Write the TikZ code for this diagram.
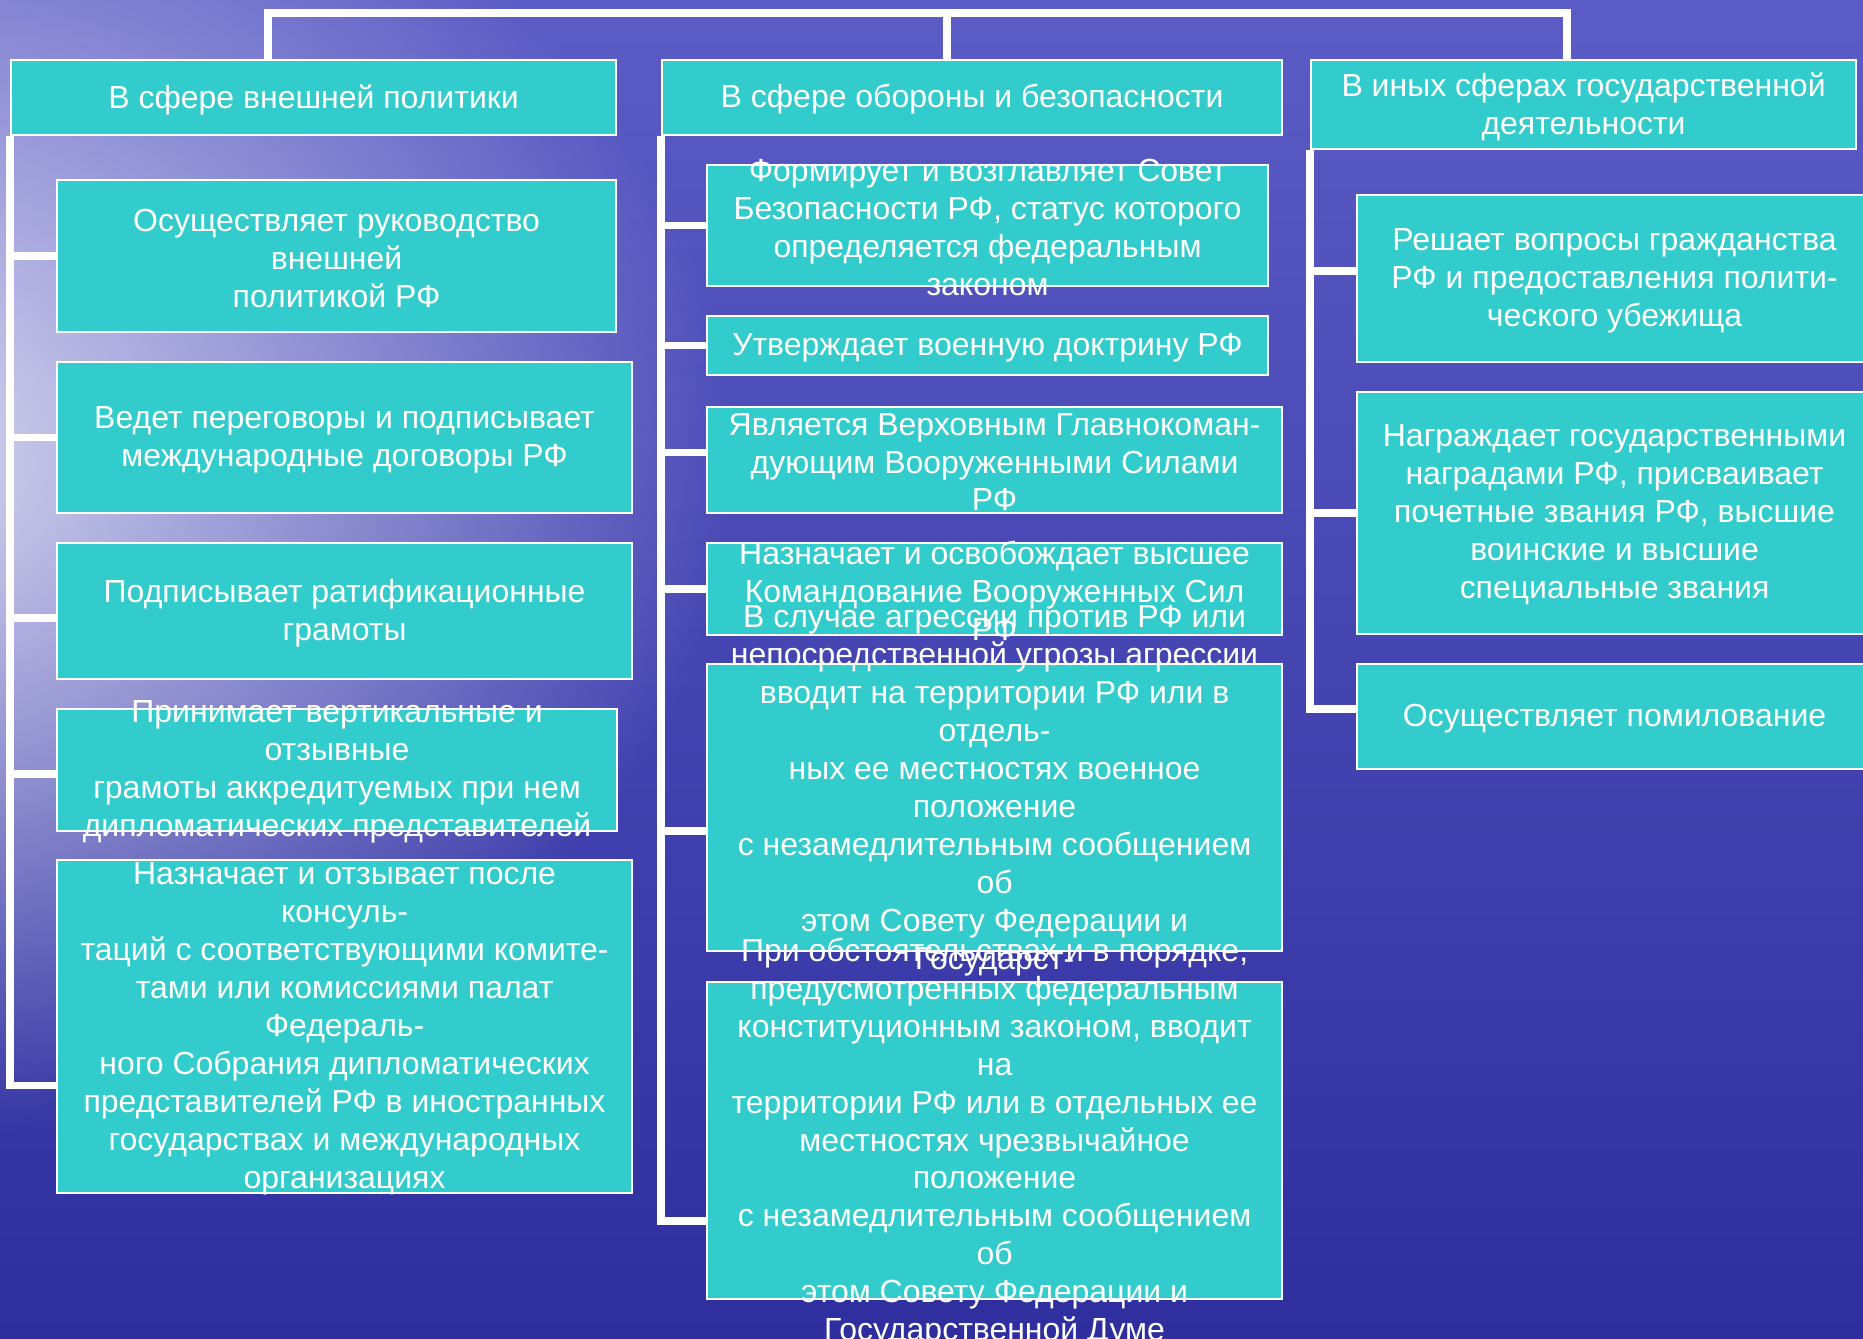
\documentclass[tikz,border=0pt]{standalone}
\usepackage{fontspec}
\setmainfont{Liberation Sans}
\usepackage{xcolor}
\usetikzlibrary{fadings}

\definecolor{boxfill}{RGB}{51,204,204}
\definecolor{bgtop}{RGB}{92,92,198}
\definecolor{bgmid}{RGB}{68,68,180}
\definecolor{bgbot}{RGB}{46,46,158}
\newcommand{\bxfont}{\fontsize{9.1}{10.8}\selectfont}

\tikzfading[name=glow, inner color=transparent!0, outer color=transparent!100]

\begin{document}
\begin{tikzpicture}[
  box/.style={draw=white, line width=0.6pt, fill=boxfill, inner sep=0pt, anchor=north west},
  txt/.style={text=white, align=center, inner sep=0pt, font=\bxfont},
  wire/.style={white, line width=2.1pt}]
  \useasboundingbox (0,0) rectangle (18.63,-13.38);
  % Background
  \shade[top color=bgtop, middle color=bgmid, bottom color=bgbot] (0,0) rectangle (18.63,-13.38);
  \fill[white, fill opacity=0.8, path fading=glow] (-1.2,-4.6) ellipse (8.5 and 6.8);

  % Column headers
  \node[box, minimum width=6.05cm, minimum height=0.75cm] (hdrA) at (0.10,-0.59) {};
  \node[txt] (hdrAt) at ([yshift=-0.02cm]hdrA) {В сфере внешней политики};
  \node[box, minimum width=6.20cm, minimum height=0.75cm] (hdrB) at (6.61,-0.59) {};
  \node[txt] (hdrBt) at ([yshift=-0.02cm]hdrB) {В сфере обороны и безопасности};
  \node[box, minimum width=5.45cm, minimum height=0.89cm] (hdrC) at (13.10,-0.59) {};
  \node[txt] (hdrCt) at ([yshift=-0.02cm]hdrC) {В иных сферах государственной\\деятельности};

  % Top bracket
  \coordinate (topA) at (2.68,-0.13);
  \coordinate (topB) at (9.47,-0.13);
  \coordinate (topC) at (15.67,-0.13);
  \draw[wire] (topA |- hdrA.north) -- (topA) -- (topC) -- (topC |- hdrC.north);
  \draw[wire] (topB) -- (topB |- hdrB.north);

  % Foreign policy
  \node[box, minimum width=5.59cm, minimum height=1.52cm] (bA1) at (0.56,-1.79) {};
  \node[txt] (bA1t) at ([yshift=-0.02cm]bA1) {Осуществляет руководство\\внешней\\политикой РФ};
  \node[box, minimum width=5.75cm, minimum height=1.51cm] (bA2) at (0.56,-3.61) {};
  \node[txt] (bA2t) at ([yshift=-0.02cm]bA2) {Ведет переговоры и подписывает\\международные договоры РФ};
  \node[box, minimum width=5.75cm, minimum height=1.36cm] (bA3) at (0.56,-5.42) {};
  \node[txt] (bA3t) at ([yshift=-0.02cm]bA3) {Подписывает ратификационные\\грамоты};
  \node[box, minimum width=5.60cm, minimum height=1.22cm] (bA4) at (0.56,-7.08) {};
  \node[txt] (bA4t) at ([yshift=-0.02cm]bA4) {Принимает вертикальные и\\отзывные\\грамоты аккредитуемых при нем\\дипломатических представителей};
  \node[box, minimum width=5.75cm, minimum height=3.33cm] (bA5) at (0.56,-8.59) {};
  \node[txt] (bA5t) at ([yshift=-0.02cm]bA5) {Назначает и отзывает после\\консуль-\\таций с соответствующими комите-\\тами или комиссиями палат\\Федераль-\\ного Собрания дипломатических\\представителей РФ в иностранных\\государствах и международных\\организациях};

  % Defence and security
  \node[box, minimum width=5.61cm, minimum height=1.21cm] (bB1) at (7.06,-1.64) {};
  \node[txt] (bB1t) at ([yshift=-0.02cm]bB1) {Формирует и возглавляет Совет\\Безопасности РФ, статус которого\\определяется федеральным\\законом};
  \node[box, minimum width=5.61cm, minimum height=0.59cm] (bB2) at (7.06,-3.15) {};
  \node[txt] (bB2t) at ([yshift=-0.02cm]bB2) {Утверждает военную доктрину РФ};
  \node[box, minimum width=5.75cm, minimum height=1.06cm] (bB3) at (7.06,-4.06) {};
  \node[txt] (bB3t) at ([yshift=-0.02cm]bB3) {Является Верховным Главнокоман-\\дующим Вооруженными Силами\\РФ};
  \node[box, minimum width=5.75cm, minimum height=0.92cm] (bB4) at (7.06,-5.42) {};
  \node[txt] (bB4t) at ([yshift=-0.02cm]bB4) {Назначает и освобождает высшее\\Командование Вооруженных Сил\\РФ};
  \node[box, minimum width=5.75cm, minimum height=2.87cm] (bB5) at (7.06,-6.63) {};
  \node[txt] (bB5t) at ([yshift=-0.02cm]bB5) {В случае агрессии против РФ или\\непосредственной угрозы агрессии\\вводит на территории РФ или в\\отдель-\\ных ее местностях военное\\положение\\с незамедлительным сообщением\\об\\этом Совету Федерации и\\Государст-\\\phantom{венной Думе}};
  \node[box, minimum width=5.75cm, minimum height=3.17cm] (bB6) at (7.06,-9.81) {};
  \node[txt] (bB6t) at ([yshift=-0.02cm]bB6) {При обстоятельствах и в порядке,\\предусмотренных федеральным\\конституционным законом, вводит\\на\\территории РФ или в отдельных ее\\местностях чрезвычайное\\положение\\с незамедлительным сообщением\\об\\этом Совету Федерации и\\Государственной Думе};

  % Other spheres
  \node[box, minimum width=5.15cm, minimum height=1.67cm] (bC1) at (13.56,-1.94) {};
  \node[txt] (bC1t) at ([yshift=-0.02cm]bC1) {Решает вопросы гражданства\\РФ и предоставления полити-\\ческого убежища};
  \node[box, minimum width=5.15cm, minimum height=2.42cm] (bC2) at (13.56,-3.91) {};
  \node[txt] (bC2t) at ([yshift=-0.02cm]bC2) {Награждает государственными\\наградами РФ, присваивает\\почетные звания РФ, высшие\\воинские и высшие\\специальные звания};
  \node[box, minimum width=5.15cm, minimum height=1.05cm] (bC3) at (13.56,-6.63) {};
  \node[txt] (bC3t) at ([yshift=-0.02cm]bC3) {Осуществляет помилование};

  % Spines and branches
  \draw[wire] (hdrA.south west) |- ([yshift=-0.59cm]bA5.west);
  \foreach \b/\s in {bA1/0, bA2/0, bA3/-0.07, bA4/-0.04}
    \draw[wire] ([yshift=\s cm]\b.west) -- ([yshift=\s cm]\b.west -| hdrA.south west);
  \draw[wire] (hdrB.south west) |- ([yshift=-0.805cm]bB6.west);
  \foreach \b/\s in {bB1/0, bB2/0, bB3/0.075, bB4/0, bB5/-0.235}
    \draw[wire] ([yshift=\s cm]\b.west) -- ([yshift=\s cm]\b.west -| hdrB.south west);
  \draw[wire] (hdrC.south west) |- ([yshift=0.075cm]bC3.west);
  \foreach \b/\s in {bC1/0.075, bC2/0}
    \draw[wire] ([yshift=\s cm]\b.west) -- ([yshift=\s cm]\b.west -| hdrC.south west);
\end{tikzpicture}
\end{document}
